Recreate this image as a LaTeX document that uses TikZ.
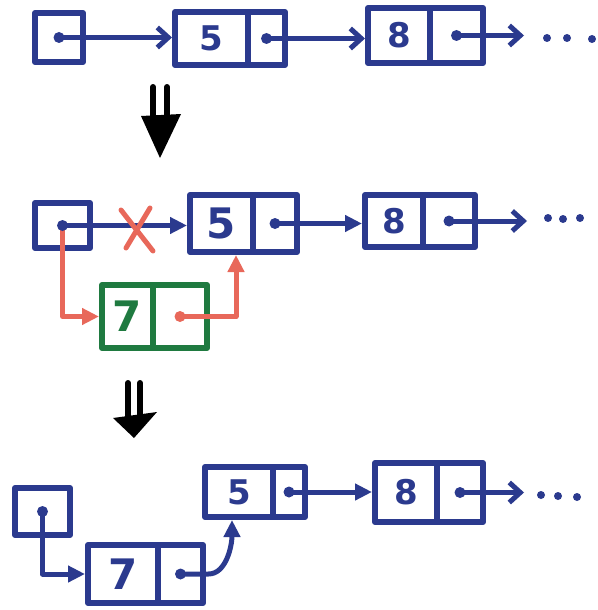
\documentclass[tikz,border=0pt]{standalone}
\usepackage{fontspec}
\setsansfont{DejaVu Sans}
\usetikzlibrary{arrows.meta,calc}
\definecolor{ink}{HTML}{2B3A8E}
\definecolor{redink}{HTML}{E8685A}
\definecolor{greenink}{HTML}{1F7A40}
\begin{document}
\begin{tikzpicture}[x=1pt,y=-1pt,line join=round,line cap=round,
  box/.style={draw=ink,rectangle,line width=6pt,inner sep=0pt,text=ink,
    font=\sffamily\bfseries\fontsize{34}{34}\selectfont},
  gbox/.style={box,draw=greenink,text=greenink},
  big/.style={font=\sffamily\bfseries\fontsize{42}{42}\selectfont},
  link/.style={draw=ink,line width=5pt},
  rlink/.style={draw=redink,line width=5pt},
  fwd/.style={-{Triangle[length=17pt,width=16pt]}},
  barb/.style={-{Straight Barb[length=11pt,width=20pt]}},
  ptr/.style={circle,fill=ink,inner sep=0pt,minimum size=11pt},
  more/.style={circle,fill=ink,inner sep=0pt,minimum size=8pt},
  bigarrow/.style={line width=6pt,draw=black,line cap=round}]
\useasboundingbox (0,0) rectangle (597,610);

% ---------- first list: head -> 5 -> 8 -> ...
\node[box,minimum width=48pt,minimum height=49pt] (h1) at (59,37.5) {};
\node[box,minimum width=73pt,minimum height=53pt] (d1) at (211.5,38.5) {5};
\node[box,minimum width=37pt,minimum height=53pt] (p1) at (266.5,38.5) {};
\node[box,minimum width=62pt,minimum height=55pt] (d2) at (399,35.5) {8};
\node[box,minimum width=53pt,minimum height=55pt] (p2) at (456.5,35.5) {};
\coordinate (t1) at (524,35.5);
\node[more] (m1a) at (547,38) {};
\node[more] (m1b) at (567,38) {};
\node[more] (m1c) at (592,39) {};

\draw[link,barb] (h1.center) -- (h1.center -| d1.west);
\draw[link,barb] (p1.center) -- (p1.center -| d2.west);
\draw[link,barb] (p2.center) -- (t1);
\node[ptr] at (h1.center) {};
\node[ptr] at (p1.center) {};
\node[ptr] at (p2.center) {};

% ---------- first step arrow
\draw[bigarrow] (153,87) -- (153,120) (167,87) -- (167,120);
\fill[black] (141,116) -- (181,114) -- (160,158) -- cycle;

% ---------- insertion of 7
\node[box,minimum width=55pt,minimum height=45pt] (h2) at (62.5,225.5) {};
\node[box,minimum width=63pt,minimum height=57pt,big] (d3) at (221.5,223.5) {5};
\node[box,minimum width=44pt,minimum height=57pt] (p3) at (275,223.5) {};
\node[box,minimum width=58pt,minimum height=52pt] (d4) at (394,221) {8};
\node[box,minimum width=52pt,minimum height=52pt] (p4) at (449,221) {};
\node[gbox,minimum width=51pt,minimum height=63pt,big] (g7) at (127.5,316.5) {7};
\node[gbox,minimum width=54pt,minimum height=63pt] (gp) at (180,316.5) {};
\coordinate (t2) at (527,221);
\coordinate (c3) at ([xshift=14.5pt]d3.south);
\node[more] (m2a) at (548,218) {};
\node[more] (m2b) at (563,219) {};
\node[more] (m2c) at (580,218) {};

\draw[rlink,fwd] (h2.center) |- (g7.west);
\draw[rlink,fwd] (gp.center) -| (c3);
\fill[redink] (gp.center) circle (5.5pt);
\draw[link,fwd] (h2.center) -- (h2.center -| d3.west);
\draw[link,fwd] (p3.center) -- (p3.center -| d4.west);
\draw[link,barb] (p4.center) -- (t2);
\node[ptr] at (h2.center) {};
\node[ptr] at (p3.center) {};
\node[ptr] at (p4.center) {};

% the removed link
\draw[redink,line width=5pt] (121,210) -- (153,251);
\draw[redink,line width=5pt] (150,208) -- (126,248);

% ---------- second step arrow
\draw[bigarrow] (128,383) -- (128,418) (140,383) -- (140,418);
\fill[black] (113,418) -- (157,412) -- (134,438) -- cycle;

% ---------- resulting list: head -> 7 -> 5 -> 8 -> ...
\node[box,minimum width=55pt,minimum height=47pt] (h3) at (42.5,511.5) {};
\node[box,minimum width=70pt,minimum height=58pt,big] (b7) at (123,574) {7};
\node[box,minimum width=45pt,minimum height=58pt] (bp7) at (180.5,574) {};
\node[box,minimum width=68pt,minimum height=50pt] (d5) at (239,492) {5};
\node[box,minimum width=32pt,minimum height=50pt] (p5) at (289,492) {};
\node[box,minimum width=62pt,minimum height=59pt] (d6) at (406,492.5) {8};
\node[box,minimum width=46pt,minimum height=59pt] (p6) at (460,492.5) {};
\coordinate (t3) at (524,492.5);
\coordinate (c5) at ([xshift=-7pt]d5.south);
\node[more] (m3a) at (541,495) {};
\node[more] (m3b) at (558,496) {};
\node[more] (m3c) at (577,497) {};

\draw[link,fwd] (h3.center) |- (b7.west);
\draw[link,fwd] (bp7.center) -- ++(28,0) .. controls +(18,0) and +(0,25) .. (c5);
\draw[link,fwd] (p5.center) -- (p5.center -| d6.west);
\draw[link,barb] (p6.center) -- (t3);
\node[ptr] at (h3.center) {};
\node[ptr] at (bp7.center) {};
\node[ptr] at (p5.center) {};
\node[ptr] at (p6.center) {};
\end{tikzpicture}
\end{document}
